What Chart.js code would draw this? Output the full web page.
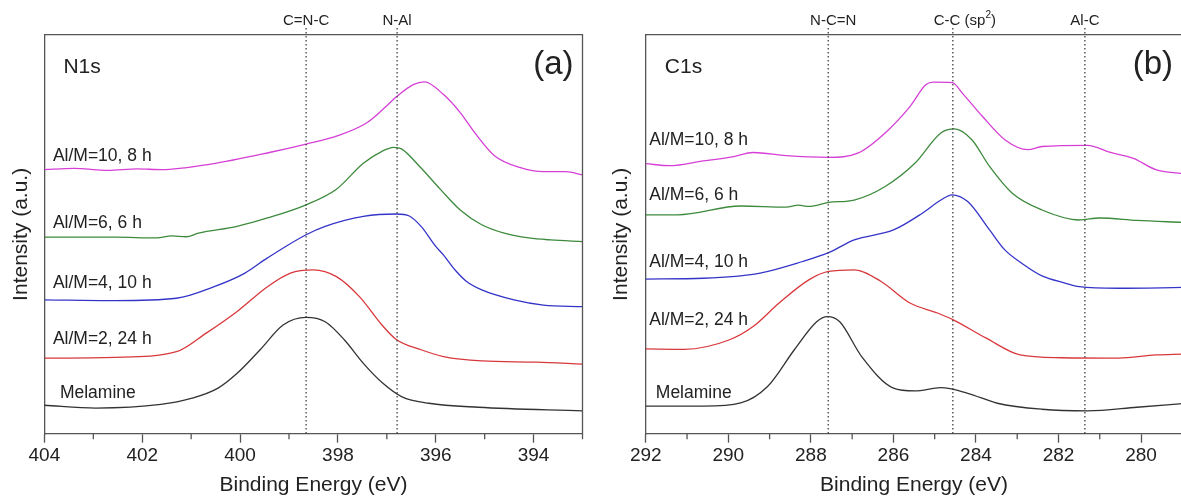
<!DOCTYPE html>
<html>
<head>
<meta charset="utf-8">
<script src="https://cdn.jsdelivr.net/npm/chart.js@4.4.1/dist/chart.umd.min.js"></script>
<style>
  body { margin: 0; background: #fff; width: 1181px; height: 504px; overflow: hidden; position: relative; }
  canvas { position: absolute; top: 0; }
  #chartA { left: 0; }
  #chartB { left: 600px; }
</style>
</head>
<body>
<canvas id="chartA" width="600" height="504"></canvas>
<canvas id="chartB" width="600" height="504"></canvas>
<script>
// ---- panel (a): N1s, binding energy (eV) / intensity (a.u.)
const n1sTicks = [404, 402, 400, 398, 396, 394];
const n1sMinor = [403, 401, 399, 397, 395, 393];
const n1sPeaks = [398.65, 396.79];
const n1sPeakNames = ['C=N-C', 'N-Al'];

const n1sMelE = [404, 402.95, 401.62, 401.0, 400.45, 400.06, 399.59, 399.12, 398.65, 398.26, 397.87, 397.48, 397.08, 396.69, 396.14, 395.13, 393];
const n1sMelI = [7.2, 6.5, 7.4, 8.9, 11.5, 15.2, 21.1, 27.3, 29.2, 28.1, 23.6, 17.7, 12.7, 9.3, 7.7, 6.7, 5.8];
const n1sAl2E = [404, 402.56, 401.3, 400.7, 400.06, 399.44, 398.97, 398.5, 398.03, 397.56, 397.1, 396.8, 396.3, 395.84, 395.06, 393.95, 393];
const n1sAl2I = [19.0, 19.2, 20.6, 25.2, 30.7, 36.9, 40.3, 41.1, 39.4, 34.4, 27.3, 23.6, 21.1, 19.4, 18.3, 18.0, 17.5];
const n1sAl4E = [404, 402.56, 401.3, 400.53, 399.9, 399.44, 398.65, 398.26, 397.48, 396.8, 396.54, 396.3, 396.0, 395.84, 395.6, 395.37, 395.06, 394.4, 393.8, 393];
const n1sAl4I = [33.6, 33.4, 34.0, 36.9, 40.3, 44.1, 49.9, 52.0, 54.5, 55.1, 54.6, 52.0, 47.0, 44.8, 41.0, 38.2, 36.1, 33.6, 32.3, 31.9];
const n1sAl6E = [404, 402.56, 401.7, 401.4, 401.1, 400.85, 400.06, 399.44, 398.65, 398.03, 397.48, 397.1, 396.86, 396.7, 396.3, 395.9, 395.5, 395.06, 394.6, 394.1, 393.65, 393];
const n1sAl6I = [49.3, 49.3, 49.1, 49.6, 49.4, 50.3, 52.0, 54.1, 57.4, 61.3, 67.8, 70.8, 71.8, 71.4, 66.6, 61.2, 56.1, 52.4, 50.3, 49.1, 48.6, 48.2];
const n1sAl10E = [404, 403.4, 402.7, 402.1, 401.6, 400.6, 399.4, 398.65, 398.0, 397.4, 397.0, 396.8, 396.46, 396.23, 395.84, 395.5, 395.2, 394.8, 394.27, 393.8, 393.34, 393];
const n1sAl10I = [66.2, 66.5, 66.0, 66.4, 66.2, 67.6, 70.5, 72.6, 74.7, 78.0, 82.2, 84.5, 87.5, 88.2, 85.0, 80.5, 75.4, 69.7, 66.7, 65.7, 65.7, 64.9];

// ---- panel (b): C1s
const c1sTicks = [292, 290, 288, 286, 284, 282, 280];
const c1sMinor = [291, 289, 287, 285, 283, 281, 279];
const c1sPeaks = [287.58, 284.56, 281.36];
const c1sPeakNames = ['N-C=N', 'C-C (sp|2|)', 'Al-C'];

const c1sMelE = [292, 290.6, 289.7, 289.05, 288.4, 287.86, 287.6, 287.3, 286.77, 286.0, 285.48, 284.85, 284.2, 283.48, 282.4, 281.3, 280.1, 279];
const c1sMelI = [7.0, 7.0, 7.8, 11.9, 21.1, 28.1, 29.4, 28.1, 19.4, 11.5, 10.8, 11.6, 10.2, 7.7, 6.2, 5.8, 6.7, 7.6];
const c1sAl2E = [292, 291.07, 289.97, 289.4, 288.77, 288.05, 287.57, 286.95, 286.3, 285.6, 284.93, 284.55, 283.75, 282.93, 281.93, 280.55, 279.64, 279];
const c1sAl2I = [21.3, 21.2, 23.6, 26.9, 32.8, 38.6, 40.7, 41.1, 38.2, 32.8, 30.3, 28.6, 24.0, 19.8, 19.1, 19.0, 19.8, 20.0];
const c1sAl4E = [292, 290.6, 289.23, 288.2, 287.57, 286.95, 286.0, 285.3, 284.85, 284.58, 284.2, 283.67, 283.3, 282.84, 282.4, 281.84, 281.5, 280.55, 279];
const c1sAl4I = [38.8, 39.0, 40.3, 43.2, 45.4, 48.6, 51.1, 55.3, 58.6, 59.9, 58.2, 51.1, 46.1, 42.4, 39.6, 37.8, 36.9, 36.5, 36.7];
const c1sAl6E = [292, 291.23, 289.7, 288.6, 288.3, 288.05, 287.57, 286.95, 286.2, 285.48, 284.85, 284.52, 284.1, 283.67, 283.12, 282.4, 281.5, 281.0, 280.1, 279];
const c1sAl6I = [54.9, 54.9, 57.1, 56.8, 57.3, 57.0, 58.0, 58.6, 62.0, 67.8, 75.4, 76.4, 73.7, 67.0, 60.3, 56.1, 53.6, 54.1, 53.5, 53.0];
const c1sAl10E = [292, 291.42, 290.6, 289.9, 289.4, 288.6, 287.57, 286.85, 286.2, 285.6, 285.21, 285.03, 284.58, 284.3, 283.84, 283.3, 282.74, 282.4, 281.3, 280.74, 280.2, 279.64, 279];
const c1sAl10I = [67.7, 67.2, 68.4, 69.4, 70.5, 69.7, 69.3, 70.4, 75.4, 82.0, 87.5, 88.1, 88.0, 85.0, 79.5, 73.7, 71.2, 72.0, 72.3, 70.5, 69.1, 66.2, 65.2];

const sampleNames = ['Melamine', 'Al/M=2, 24 h', 'Al/M=4, 10 h', 'Al/M=6, 6 h', 'Al/M=10, 8 h'];
const sampleColors = ['#333333', '#d8383c', '#3434c8', '#3d8a3d', '#d63fd6'];
// intensity level where each sample name sits
const n1sLabelLevel = [10.3, 23.8, 37.8, 52.9, 69.7];
const c1sLabelLevel = [10.3, 28.6, 43.1, 59.9, 73.7];

const FONT = '"Liberation Sans", Arial, sans-serif';
const FRAME = '#555555';
const TEXT = '#222222';

function pts(xs, ys) {
  return xs.map((x, i) => ({ x: x, y: ys[i] }));
}

// label with optional superscript written as "base|sup|rest"
function peakLabel(ctx, text, cx, cy) {
  const parts = text.split('|');
  const big = '15px ' + FONT, small = '10px ' + FONT;
  ctx.font = big;
  let w = ctx.measureText(parts[0]).width;
  let w2 = 0, w3 = 0;
  if (parts.length > 1) {
    ctx.font = small; w2 = ctx.measureText(parts[1]).width;
    ctx.font = big; w3 = ctx.measureText(parts[2]).width;
  }
  let x = cx - (w + w2 + w3) / 2;
  ctx.textAlign = 'left';
  ctx.font = big;
  ctx.fillText(parts[0], x, cy);
  if (parts.length > 1) {
    ctx.font = small;
    ctx.fillText(parts[1], x + w, cy - 5);
    ctx.font = big;
    ctx.fillText(parts[2], x + w + w2, cy);
  }
}

const panelDecor = {
  id: 'panelDecor',
  afterDraw(chart, args, o) {
    const ctx = chart.ctx;
    const a = chart.chartArea;
    const xs = chart.scales.x;
    const ys = chart.scales.y;
    ctx.save();
    // top / right frame
    ctx.strokeStyle = FRAME;
    ctx.lineWidth = 1.3;
    ctx.beginPath();
    ctx.moveTo(a.left, a.top);
    ctx.lineTo(a.right, a.top);
    ctx.lineTo(a.right, a.bottom);
    ctx.stroke();
    // minor ticks
    ctx.beginPath();
    o.minor.forEach(v => {
      const px = xs.getPixelForValue(v);
      ctx.moveTo(px, a.bottom);
      ctx.lineTo(px, a.bottom + 5.3);
    });
    ctx.stroke();
    // dotted reference lines
    ctx.strokeStyle = '#333';
    ctx.lineWidth = 1.2;
    ctx.setLineDash([1.6, 2.4]);
    o.peaks.forEach(v => {
      const px = xs.getPixelForValue(v);
      ctx.beginPath();
      ctx.moveTo(px, 28);
      ctx.lineTo(px, a.bottom);
      ctx.stroke();
    });
    ctx.setLineDash([]);
    ctx.fillStyle = TEXT;
    ctx.textBaseline = 'middle';
    o.peaks.forEach((v, i) => {
      peakLabel(ctx, o.peakNames[i], xs.getPixelForValue(v) + o.peakShift[i], 20.5);
    });
    // sample names
    ctx.font = '17.5px ' + FONT;
    ctx.textAlign = 'left';
    sampleNames.forEach((n, i) => {
      const dx = i === 0 ? o.melX : o.labX;
      ctx.fillText(n, a.left + dx, ys.getPixelForValue(o.levels[i]));
    });
    // core level + panel letter
    ctx.font = '21px ' + FONT;
    ctx.fillText(o.core, a.left + 19, 67);
    ctx.font = '33px ' + FONT;
    ctx.textAlign = 'right';
    ctx.fillText(o.letter, a.right - o.letterGap, 65);
    ctx.restore();
  }
};

function makePanel(id, sets, opts) {
  const datasets = sets.map((s, i) => ({
    data: pts(s[0], s[1]),
    borderColor: sampleColors[i],
    borderWidth: 1.3,
    pointRadius: 0,
    fill: false,
    cubicInterpolationMode: 'monotone'
  }));
  return new Chart(document.getElementById(id), {
    type: 'line',
    data: { datasets: datasets },
    plugins: [panelDecor],
    options: {
      responsive: false,
      animation: false,
      events: [],
      layout: { padding: { top: 34.7, right: opts.padRight, bottom: 0, left: 0 } },
      plugins: {
        legend: { display: false },
        tooltip: { enabled: false },
        panelDecor: opts.decor
      },
      scales: {
        x: {
          type: 'linear',
          reverse: true,
          min: opts.min,
          max: opts.max,
          afterBuildTicks: s => { s.ticks = opts.ticks.map(v => ({ value: v })); },
          afterFit: s => { s.height = 70; },
          ticks: { color: TEXT, font: { family: FONT, size: 19 }, padding: 2, maxRotation: 0, autoSkip: false },
          grid: { display: true, drawOnChartArea: false, drawTicks: true, tickLength: 8.7, tickColor: FRAME, tickWidth: 1.3 },
          border: { display: true, color: FRAME, width: 1.3 },
          title: { display: true, text: 'Binding Energy (eV)', color: TEXT, font: { family: FONT, size: 21 }, padding: { top: 0, bottom: 6 } }
        },
        y: {
          min: 0,
          max: 100,
          afterFit: s => { s.width = opts.yWidth; },
          ticks: { display: false },
          grid: { display: false },
          border: { display: true, color: FRAME, width: 1.3 },
          title: { display: true, text: 'Intensity (a.u.)', color: TEXT, font: { family: FONT, size: 21 }, padding: { top: opts.yTitlePad, bottom: 0 } }
        }
      }
    }
  });
}

makePanel('chartA', [
  [n1sMelE, n1sMelI], [n1sAl2E, n1sAl2I], [n1sAl4E, n1sAl4I], [n1sAl6E, n1sAl6I], [n1sAl10E, n1sAl10I]
], {
  min: 393, max: 404, ticks: n1sTicks, padRight: 17.5, yWidth: 44.4, yTitlePad: 8.2,
  decor: { minor: n1sMinor, peaks: n1sPeaks, peakNames: n1sPeakNames, peakShift: [0, 0], levels: n1sLabelLevel,
           labX: 8.5, melX: 15.5, core: 'N1s', letter: '(a)', letterGap: 9 }
});

makePanel('chartB', [
  [c1sMelE, c1sMelI], [c1sAl2E, c1sAl2I], [c1sAl4E, c1sAl4I], [c1sAl6E, c1sAl6I], [c1sAl10E, c1sAl10I]
], {
  min: 279, max: 292, ticks: c1sTicks, padRight: 17.7, yWidth: 45.8, yTitlePad: 9.1,
  decor: { minor: c1sMinor, peaks: c1sPeaks, peakNames: c1sPeakNames, peakShift: [5, 12, 0], levels: c1sLabelLevel,
           labX: 3.5, melX: 10, core: 'C1s', letter: '(b)', letterGap: 9.3 }
});
</script>
</body>
</html>
